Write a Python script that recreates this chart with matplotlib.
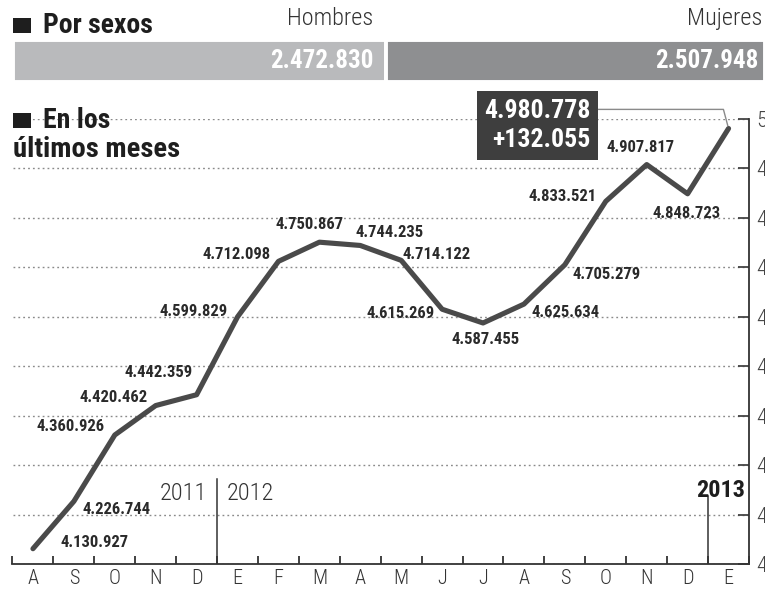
import os
import numpy as np
import matplotlib
matplotlib.use("Agg")
import matplotlib.pyplot as plt
from matplotlib import font_manager as fm
from matplotlib.font_manager import FontProperties
from matplotlib.patches import Rectangle

# ---------------- data ----------------
months = ["A", "S", "O", "N", "D", "E", "F", "M", "A", "M", "J", "J",
          "A", "S", "O", "N", "D", "E"]
values = [4130927, 4226744, 4360926, 4420462, 4442359, 4599829, 4712098,
          4750867, 4744235, 4714122, 4615269, 4587455, 4625634, 4705279,
          4833521, 4907817, 4848723, 4980778]
sex_labels = ["Hombres", "Mujeres"]
sex_values = [2472830, 2507948]
year_labels = ["2011", "2012", "2013"]
y_ticks = [4100000, 4200000, 4300000, 4400000, 4500000, 4600000,
           4700000, 4800000, 4900000, 5000000]
title_top = "Por sexos"
title_mid = ["En los", "últimos meses"]

# ---------------- fonts ----------------
def pick(cands, fallback_weight):
    files = {os.path.basename(f.fname).lower(): f.fname for f in fm.fontManager.ttflist}
    for c in cands:
        if c.lower() in files:
            return FontProperties(fname=files[c.lower()])
    return FontProperties(family="DejaVu Sans", weight=fallback_weight)

fp_bold = pick(["LiberationSansNarrow-Bold.ttf", "RobotoCondensed-Bold.ttf",
                "DejaVuSansCondensed-Bold.ttf", "Roboto-Bold.ttf"], "bold")
fp_reg = pick(["LiberationSansNarrow-Regular.ttf", "RobotoCondensed-Light.ttf",
               "RobotoCondensed-Regular.ttf", "DejaVuSansCondensed.ttf",
               "Roboto-Light.ttf"], "normal")

def F(fp, size):
    p = fp.copy()
    p.set_size(size)
    return p

def fmt(v):
    return f"{v:,}".replace(",", ".")

# ---------------- figure ----------------
W, H = 765, 594
fig = plt.figure(figsize=(W / 100, H / 100), dpi=100)
fig.patch.set_facecolor("white")

def fx(px):
    return px / W

def fy(py):
    return 1 - py / H

DARK = "#1e1e1e"
LINE = "#4a4a4a"

# ---- top: por sexos bar ----
axb = fig.add_axes([fx(12.5), fy(82), fx(752.5), 42 / H])
bar_colors = ["#b9babc", "#8e8f91"]
val_off = [-13, -7]
lab_off = [-13, -3]
left = 0
for lab, v, c, vo, lo in zip(sex_labels, sex_values, bar_colors, val_off, lab_off):
    axb.barh(0, v, left=left, height=1, color=c, edgecolor="white", linewidth=2.8)
    axb.annotate(fmt(v), xy=(left + v, 0), xytext=(vo, 0), textcoords="offset pixels",
                 ha="right", va="center", color="white", fontproperties=F(fp_bold, 18))
    axb.annotate(lab, xy=(left + v, 1.0), xycoords=("data", "axes fraction"),
                 xytext=(lo, 10), textcoords="offset pixels", ha="right", va="bottom",
                 color="#333333", fontproperties=F(fp_reg, 17.5), annotation_clip=False)
    left += v
axb.set_xlim(0, sum(sex_values))
axb.set_ylim(-0.5, 0.5)
axb.axis("off")

# headings
fig.add_artist(Rectangle((fx(13), fy(33)), 18 / W, 15 / H, transform=fig.transFigure,
                         color=DARK, lw=0))
fig.text(fx(43), fy(33), title_top, ha="left", va="baseline", color=DARK,
         fontproperties=F(fp_bold, 20))
fig.add_artist(Rectangle((fx(13), fy(128)), 18 / W, 15 / H, transform=fig.transFigure,
                         color=DARK, lw=0, zorder=5))
fig.text(fx(43), fy(128), title_mid[0], ha="left", va="baseline", color=DARK,
         fontproperties=F(fp_bold, 20), zorder=5)
fig.text(fx(13), fy(157), title_mid[1], ha="left", va="baseline", color=DARK,
         fontproperties=F(fp_bold, 20.5), zorder=5)

# ---- main line chart ----
ax = fig.add_axes([fx(12.5), fy(564), fx(736.5), 445 / H])
x = np.arange(len(values))
ax.plot(x, values, color=LINE, lw=3.7, solid_capstyle="round",
        solid_joinstyle="round", zorder=4)
ax.set_xlim(-0.5, len(values) - 0.5)
ax.set_ylim(y_ticks[0], y_ticks[-1])

ax.set_yticks(y_ticks)
ax.set_yticklabels([fmt(t) for t in y_ticks])
ax.yaxis.tick_right()
ax.tick_params(axis="y", direction="in", length=8, width=1.3, color="#444444",
               labelcolor="#444444", pad=5)
for t in ax.get_yticklabels():
    t.set_fontproperties(F(fp_reg, 16))
ax.grid(axis="y", linestyle=(0, (1.3, 2.2)), color="#8a8a8a", lw=1.0, zorder=1)

ax.set_xticks(x)
ax.set_xticklabels(months)
ax.set_xticks(np.arange(-0.5, len(values)), minor=True)
ax.tick_params(axis="x", which="major", length=0, pad=3.5, labelcolor="#333333")
ax.tick_params(axis="x", which="minor", direction="in", length=5.5, width=1.3,
               color="#333333")
for t in ax.get_xticklabels():
    t.set_fontproperties(F(fp_reg, 14.5))

for s in ["left", "top"]:
    ax.spines[s].set_visible(False)
for s in ["bottom", "right"]:
    ax.spines[s].set_color("#333333")
    ax.spines[s].set_linewidth(1.3)

# year dividers
year_starts = [i for i, m in enumerate(months) if m == "E"]
xt = ax.get_xaxis_transform()
div_tops = [0.191, 0.153]
for b, top in zip(year_starts, div_tops):
    ax.plot([b - 0.5, b - 0.5], [0, top], transform=xt, color="#333333", lw=1.1,
            zorder=2)
ax.annotate(year_labels[0], xy=(year_starts[0] - 0.5, 0.144), xycoords=xt,
            xytext=(-10, 0), textcoords="offset pixels", ha="right", va="baseline",
            color="#333333", fontproperties=F(fp_reg, 17.5))
ax.annotate(year_labels[1], xy=(year_starts[0] - 0.5, 0.144), xycoords=xt,
            xytext=(10, 0), textcoords="offset pixels", ha="left", va="baseline",
            color="#333333", fontproperties=F(fp_reg, 17.5))
ax.annotate(year_labels[2], xy=(year_starts[1] - 0.5, 0.151), xycoords=xt,
            xytext=(37, 0), textcoords="offset pixels", ha="right", va="baseline",
            color=DARK, fontproperties=F(fp_bold, 17.5))

# data labels (pixel offsets from each point)
label_offsets = [(62, 8), (43, -7), (-44, 10), (-42, 10), (-38, 24), (-44, 7),
                 (-42, 8), (-10, 19), (29, 14), (35, 7), (-42, -3), (3, -15),
                 (42, -7), (42, -8), (-43, 6), (-6, 19), (-1, -18)]
for i, (v, (dx, dy)) in enumerate(zip(values[:-1], label_offsets)):
    ax.annotate(fmt(v), xy=(i, v), xytext=(dx, dy), textcoords="offset pixels",
                ha="center", va="center_baseline", color="#2a2a2a",
                fontproperties=F(fp_bold, 12), zorder=5)

# highlighted last value box
last, prev = values[-1], values[-2]
ax.annotate(f"{fmt(last)}\n+{fmt(last - prev)}", xy=(len(values) - 1, last),
            xytext=(-191, 3), textcoords="offset pixels", ha="center", va="center",
            multialignment="right", color="white", linespacing=1.3,
            fontproperties=F(fp_bold, 18.5), annotation_clip=False, zorder=6,
            bbox=dict(boxstyle="square,pad=0.28", fc="#3e3e3e", ec="none"),
            arrowprops=dict(arrowstyle="-", color="#8a8a8a", lw=1.0,
                            connectionstyle="angle,angleA=0,angleB=-75,rad=0",
                            relpos=(1.0, 0.8), shrinkA=0, shrinkB=2))

fig.savefig("out.png", dpi=100)
